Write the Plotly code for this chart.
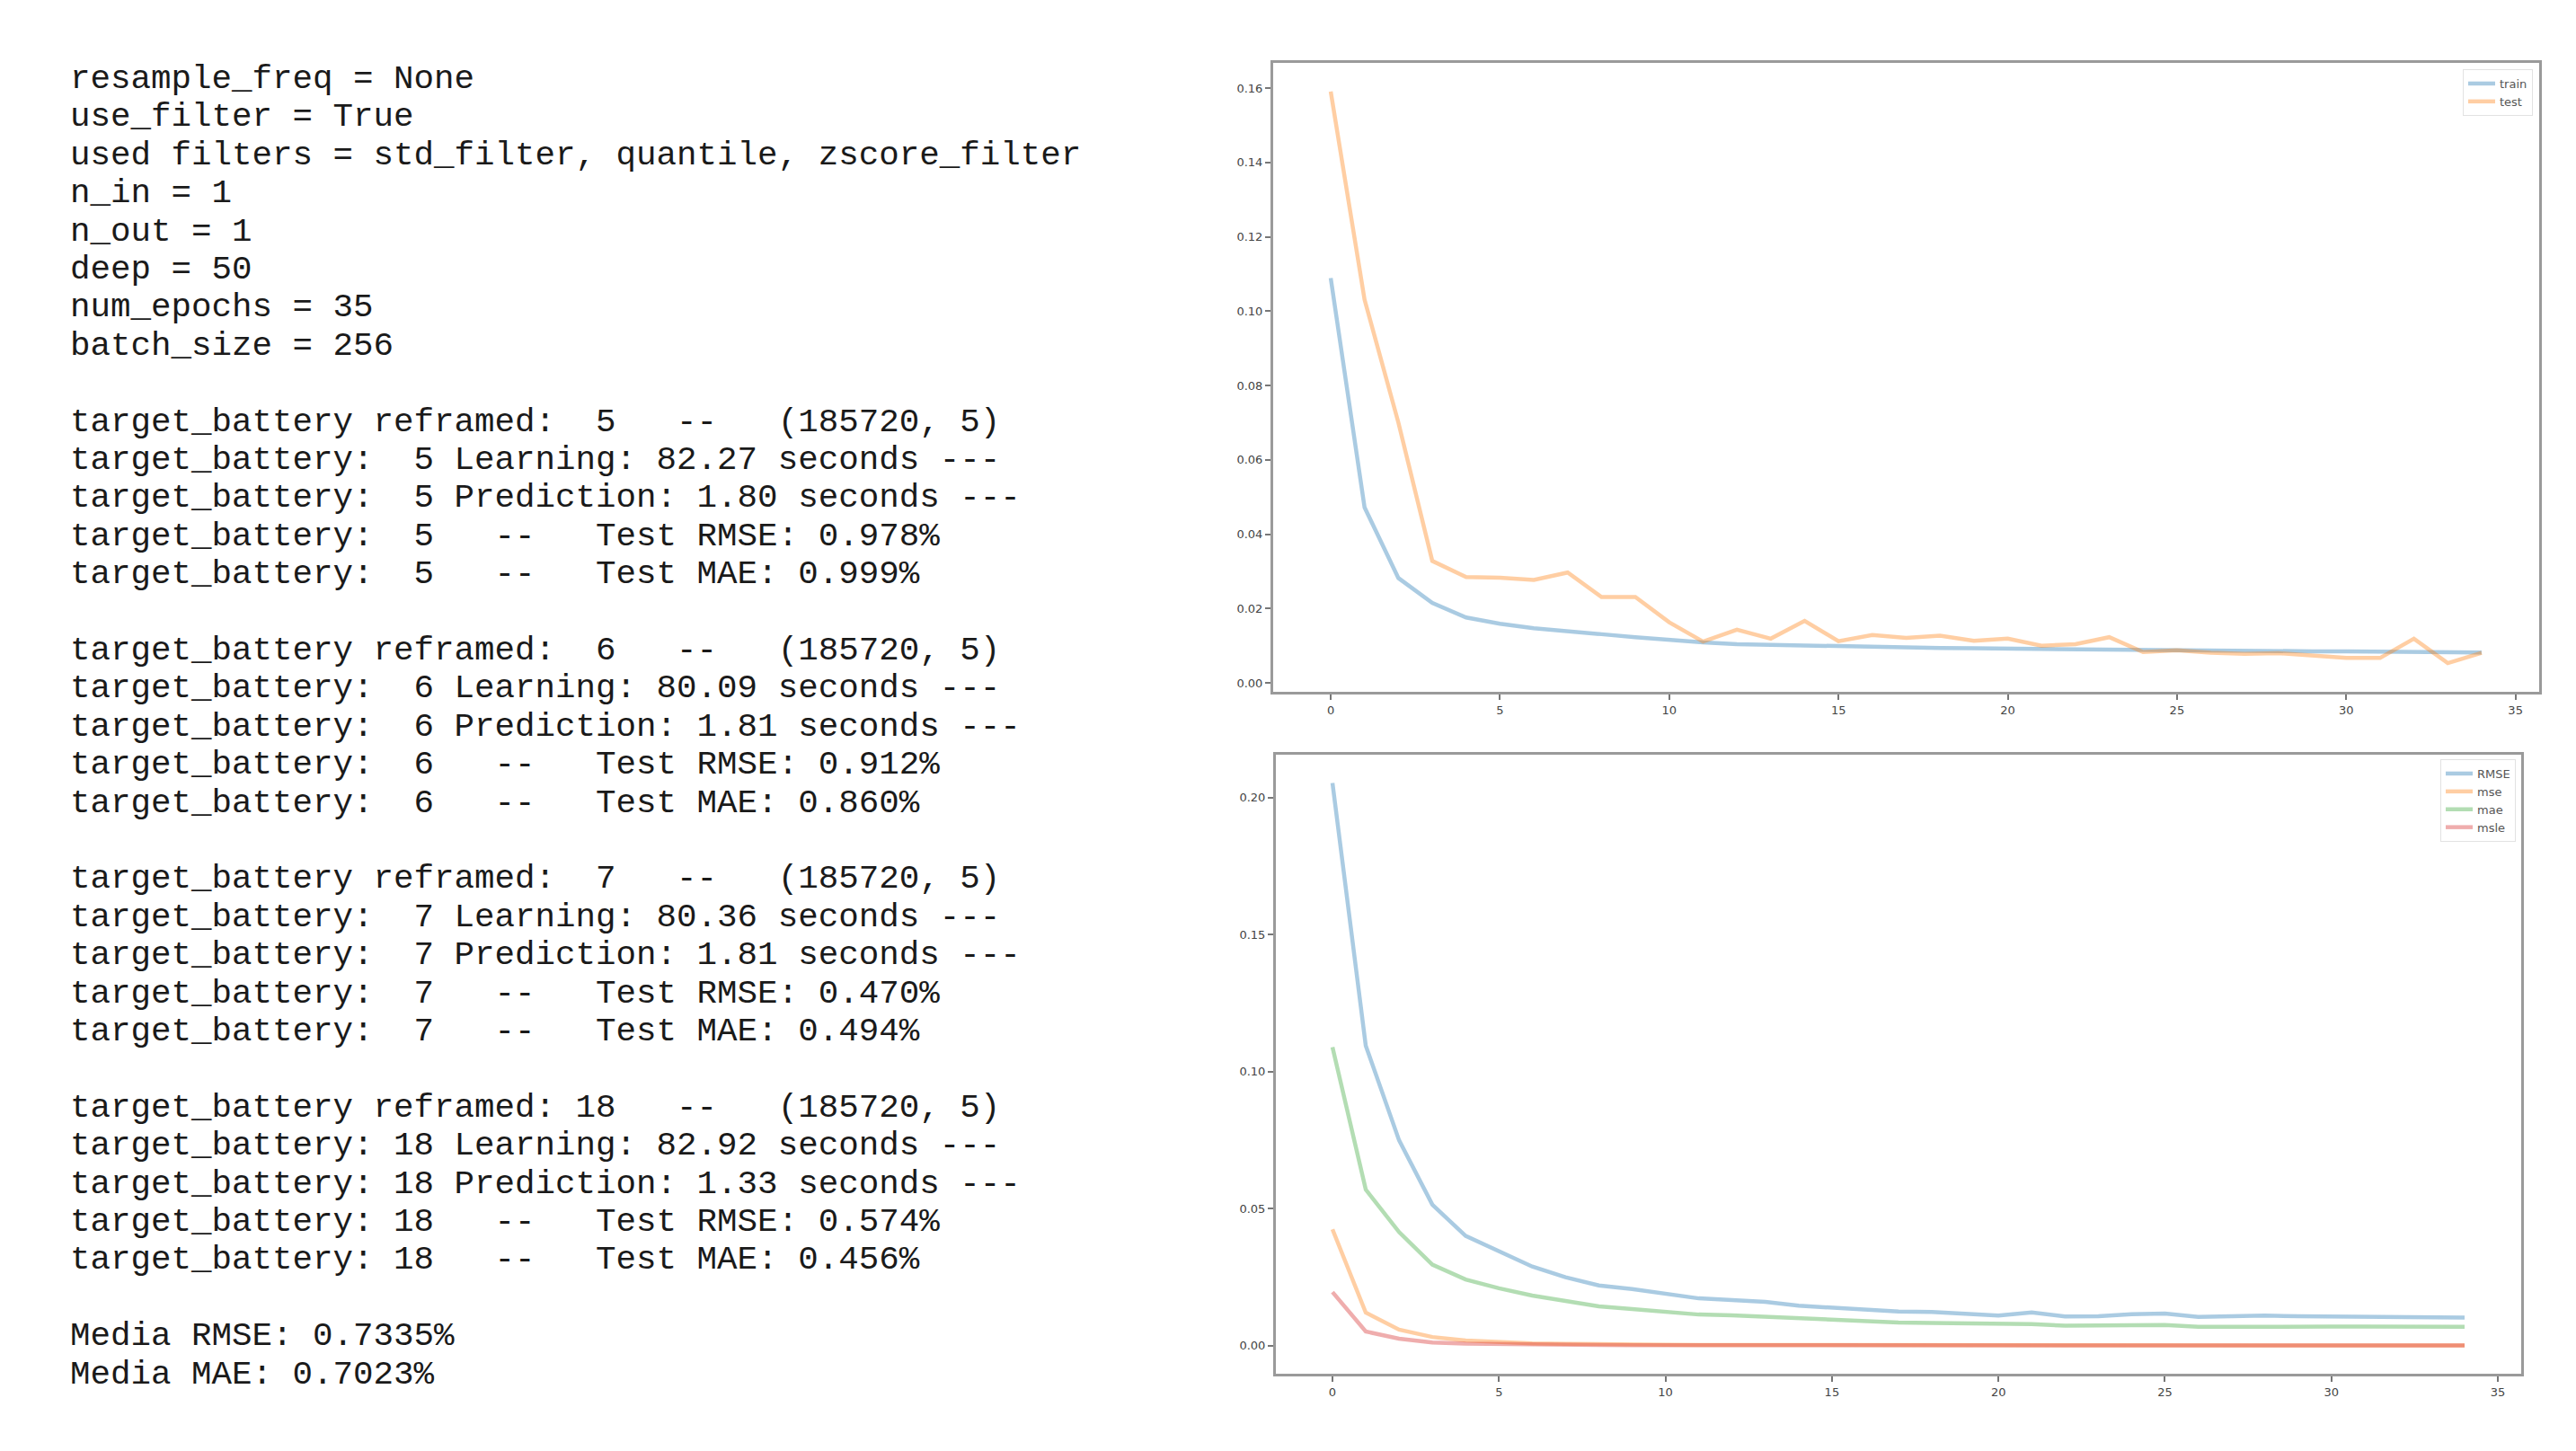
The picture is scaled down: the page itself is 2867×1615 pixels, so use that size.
import plotly.graph_objects as go

# ── data ─────────────────────────────────────────────────────────────

LOG_LINES = [
    "resample_freq = None",
    "use_filter = True",
    "used filters = std_filter, quantile, zscore_filter",
    "n_in = 1",
    "n_out = 1",
    "deep = 50",
    "num_epochs = 35",
    "batch_size = 256",
    "",
    "target_battery reframed:  5   --   (185720, 5)",
    "target_battery:  5 Learning: 82.27 seconds ---",
    "target_battery:  5 Prediction: 1.80 seconds ---",
    "target_battery:  5   --   Test RMSE: 0.978%",
    "target_battery:  5   --   Test MAE: 0.999%",
    "",
    "target_battery reframed:  6   --   (185720, 5)",
    "target_battery:  6 Learning: 80.09 seconds ---",
    "target_battery:  6 Prediction: 1.81 seconds ---",
    "target_battery:  6   --   Test RMSE: 0.912%",
    "target_battery:  6   --   Test MAE: 0.860%",
    "",
    "target_battery reframed:  7   --   (185720, 5)",
    "target_battery:  7 Learning: 80.36 seconds ---",
    "target_battery:  7 Prediction: 1.81 seconds ---",
    "target_battery:  7   --   Test RMSE: 0.470%",
    "target_battery:  7   --   Test MAE: 0.494%",
    "",
    "target_battery reframed: 18   --   (185720, 5)",
    "target_battery: 18 Learning: 82.92 seconds ---",
    "target_battery: 18 Prediction: 1.33 seconds ---",
    "target_battery: 18   --   Test RMSE: 0.574%",
    "target_battery: 18   --   Test MAE: 0.456%",
    "",
    "Media RMSE: 0.7335%",
    "Media MAE: 0.7023%",
]

EPOCHS = [0, 1, 2, 3, 4, 5, 6, 7, 8, 9, 10, 11, 12, 13, 14, 15, 16, 17,
          18, 19, 20, 21, 22, 23, 24, 25, 26, 27, 28, 29, 30, 31, 32, 33, 34]

TRAIN_LOSS = [0.1089, 0.0472, 0.0282, 0.0215, 0.0176, 0.0159, 0.0147, 0.0140,
              0.0131, 0.0123, 0.0115, 0.0109, 0.0104, 0.0102, 0.0100, 0.0099,
              0.0097, 0.0095, 0.0094, 0.0093, 0.0092, 0.0091, 0.0090, 0.0089,
              0.0089, 0.0088, 0.0087, 0.0087, 0.0086, 0.0085, 0.0085, 0.0084,
              0.0083, 0.0082, 0.0082]
TEST_LOSS = [0.1591, 0.1031, 0.0700, 0.0328, 0.0285, 0.0283, 0.0277, 0.0297,
             0.0231, 0.0231, 0.0163, 0.0111, 0.0143, 0.0119, 0.0167, 0.0112,
             0.0129, 0.0121, 0.0127, 0.0113, 0.0119, 0.0100, 0.0104, 0.0123,
             0.0083, 0.0088, 0.0081, 0.0078, 0.0080, 0.0073, 0.0067, 0.0067,
             0.0119, 0.0053, 0.0081]

RMSE = [0.2054, 0.1095, 0.0750, 0.0515, 0.0401, 0.0346, 0.0289, 0.0250,
        0.0220, 0.0207, 0.0190, 0.0173, 0.0167, 0.0160, 0.0146, 0.0138,
        0.0131, 0.0125, 0.0123, 0.0118, 0.0110, 0.0122, 0.0107, 0.0108,
        0.0115, 0.0118, 0.0105, 0.0108, 0.0110, 0.0108, 0.0107, 0.0107,
        0.0107, 0.0103, 0.0103]
MSE = [0.0425, 0.0121, 0.0059, 0.0032, 0.0019, 0.0013, 0.0009, 0.0007,
       0.0005, 0.0004, 0.0004, 0.0003, 0.0003, 0.0003, 0.0002, 0.0002,
       0.0002, 0.0002, 0.0002, 0.0001, 0.0001, 0.0001, 0.0001, 0.0001,
       0.0001, 0.0001, 0.0001, 0.0001, 0.0001, 0.0001, 0.0001, 0.0001,
       0.0001, 0.0001, 0.0001]
MAE = [0.1090, 0.0570, 0.0415, 0.0296, 0.0242, 0.0210, 0.0183, 0.0162,
       0.0144, 0.0134, 0.0125, 0.0114, 0.0111, 0.0106, 0.0100, 0.0094,
       0.0089, 0.0085, 0.0083, 0.0081, 0.0078, 0.0079, 0.0073, 0.0073,
       0.0075, 0.0076, 0.0069, 0.0070, 0.0071, 0.0070, 0.0070, 0.0070,
       0.0070, 0.0068, 0.0069]
MSLE = [0.0196, 0.0052, 0.0026, 0.0012, 0.0008, 0.0006, 0.0004, 0.0003,
        0.0003, 0.0002, 0.0002, 0.0002, 0.0002, 0.0002, 0.0001, 0.0001,
        0.0001, 0.0001, 0.0001, 0.0001, 0.0001, 0.0001, 0.0001, 0.0001,
        0.0001, 0.0001, 0.0001, 0.0001, 0.0001, 0.0001, 0.0001, 0.0001,
        0.0001, 0.0001, 0.0001]

# ── style ────────────────────────────────────────────────────────────

PAGE_W, PAGE_H = 2867, 1615
OFF = 8  # default body margin of the html page
W, H = PAGE_W - 2 * OFF, PAGE_H - 2 * OFF


def px(sx):
    """Screen x (page pixels) -> paper fraction."""
    return (sx - OFF) / W


def py(sy):
    """Screen y (page pixels, from top) -> paper fraction."""
    return 1 - (sy - OFF) / H


BLUE = "rgba(31,119,180,0.38)"
ORANGE = "rgba(255,127,14,0.38)"
GREEN = "rgba(44,160,44,0.36)"
RED = "rgba(214,39,40,0.38)"
LW = 4.5

axis_style = dict(
    showline=True,
    mirror=True,
    linecolor="#9a9a9a",
    linewidth=3,
    ticks="outside",
    ticklen=6,
    tickwidth=1.5,
    tickcolor="#777",
    showgrid=False,
    zeroline=False,
    tickfont=dict(family="DejaVu Sans", size=13, color="#444"),
)
legend_style = dict(
    font=dict(family="DejaVu Sans", size=13, color="#555"),
    bgcolor="rgba(255,255,255,0.85)",
    bordercolor="#e2e2e2",
    borderwidth=1,
    xanchor="right",
    yanchor="top",
)

# ── chart ────────────────────────────────────────────────────────────

fig = go.Figure()

for name, ys, color in [("train", TRAIN_LOSS, BLUE), ("test", TEST_LOSS, ORANGE)]:
    fig.add_trace(
        go.Scatter(x=EPOCHS, y=ys, name=name, mode="lines",
                   line=dict(color=color, width=LW), xaxis="x", yaxis="y",
                   legend="legend")
    )

for name, ys, color in [("RMSE", RMSE, BLUE), ("mse", MSE, ORANGE),
                        ("mae", MAE, GREEN), ("msle", MSLE, RED)]:
    fig.add_trace(
        go.Scatter(x=EPOCHS, y=ys, name=name, mode="lines",
                   line=dict(color=color, width=LW), xaxis="x2", yaxis="y2",
                   legend="legend2")
    )

# log text, one annotation per line (monospace, spaces kept)
y0, step = 88.0, 42.4
for i, line in enumerate(LOG_LINES):
    if not line:
        continue
    fig.add_annotation(
        x=px(76), y=py(y0 + i * step), xref="paper", yref="paper",
        xanchor="left", yanchor="middle", showarrow=False,
        text=line.replace(" ", "\u00a0"),
        font=dict(family="Liberation Mono, Courier New, monospace", size=37.5,
                  color="#1a1a1a"),
    )

fig.update_layout(
    width=W,
    height=H,
    autosize=False,
    margin=dict(l=0, r=0, t=0, b=0),
    paper_bgcolor="white",
    plot_bgcolor="white",
    xaxis=dict(domain=[px(1417), px(2826)], range=[-1.7, 35.7], dtick=5,
               anchor="y", **axis_style),
    yaxis=dict(domain=[py(770), py(70)], range=[-0.0024, 0.1668],
               dtick=0.02, tickformat=".2f", anchor="x", **axis_style),
    xaxis2=dict(domain=[px(1420), px(2806)], range=[-1.7, 35.7], dtick=5,
                anchor="y2", **axis_style),
    yaxis2=dict(domain=[py(1529), py(840)], range=[-0.0102, 0.2157],
                dtick=0.05, tickformat=".2f", anchor="x2", **axis_style),
    legend=dict(x=px(2819), y=py(77), **legend_style),
    legend2=dict(x=px(2800), y=py(845), **legend_style),
)

fig.write_html("out.html")
